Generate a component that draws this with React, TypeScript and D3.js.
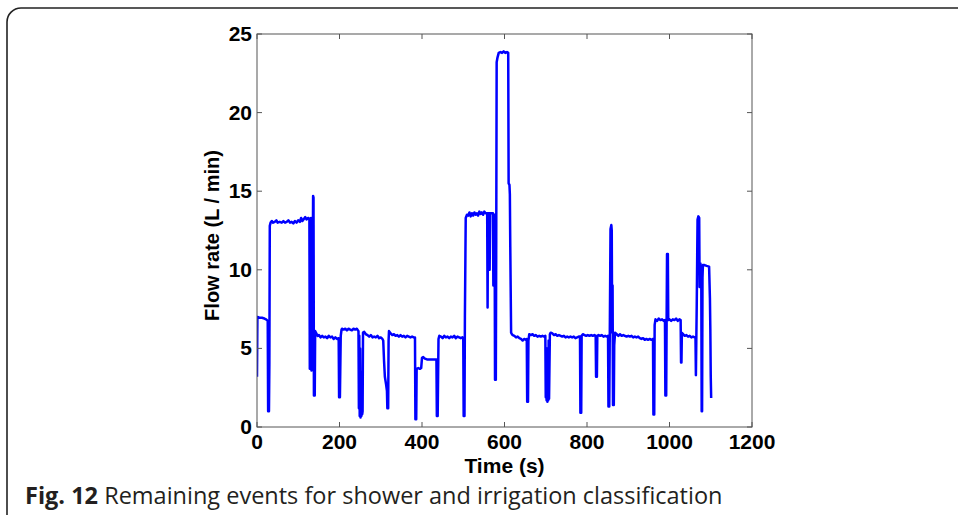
import React from "react";
import * as d3 from "d3";

const xTicks = [0, 200, 400, 600, 800, 1000, 1200];
const yTicks = [0, 5, 10, 15, 20, 25];
const xLabel = "Time (s)";
const yLabel = "Flow rate (L / min)";
const captionBold = "Fig. 12";
const captionText = " Remaining events for shower and irrigation classification";

// [time (s), flow rate (L/min)]
const flowSamples: [number, number][] = [
  [0, 3.2], [1, 7.0], [6, 6.95], [12, 6.95], [18, 6.9], [22, 6.85], [26, 6.75], [27, 1.0], [29, 1.0], [30, 4.0],
  [31, 12.8], [33, 13.0], [36, 13.1], [39, 13.0], [43, 13.05], [47, 13.15], [50, 13.0], [55, 13.05], [60, 13.0],
  [64, 13.1], [68, 13.0], [72, 13.05], [76, 13.15], [80, 13.0], [84, 13.05], [88, 12.95], [92, 13.1], [96, 13.0],
  [100, 13.15], [104, 13.05], [107, 13.3], [110, 13.1], [114, 13.25], [117, 13.35], [120, 13.2], [124, 13.3],
  [127, 13.25], [128, 3.7], [129, 13.2], [130, 8.0], [131, 13.3], [132, 3.6], [133, 12.5], [134, 5.0], [136, 14.7],
  [137, 14.6], [138, 2.0], [140, 2.0], [141, 6.1], [144, 5.95], [147, 5.8], [150, 5.85], [154, 5.7], [158, 5.8],
  [162, 5.7], [166, 5.75], [170, 5.65], [174, 5.8], [178, 5.7], [182, 5.75], [186, 5.6], [190, 5.7], [194, 5.6],
  [198, 5.65], [199, 1.9], [201, 1.9], [203, 5.8], [205, 6.2], [206, 6.25], [210, 6.2], [214, 6.25], [218, 6.15],
  [222, 6.25], [226, 6.2], [230, 6.15], [234, 6.25], [238, 6.2], [242, 6.25], [246, 6.1], [247, 1.2], [248, 5.8],
  [249, 0.7], [250, 5.0], [251, 0.6], [252, 3.5], [253, 0.7], [254, 2.0], [255, 0.8], [256, 1.0], [257, 6.0],
  [260, 6.05], [264, 5.9], [268, 5.85], [272, 5.75], [276, 5.85], [280, 5.7], [284, 5.75], [288, 5.7], [292, 5.8],
  [296, 5.65], [300, 5.7], [304, 5.6], [306, 5.5], [308, 4.2], [310, 3.2], [313, 2.7], [315, 2.3], [316, 1.2],
  [318, 1.2], [319, 5.5], [320, 6.1], [324, 5.95], [328, 5.85], [332, 5.9], [336, 5.8], [340, 5.85], [344, 5.75],
  [348, 5.85], [352, 5.75], [356, 5.8], [360, 5.7], [364, 5.8], [368, 5.75], [372, 5.7], [376, 5.75], [380, 5.7],
  [383, 5.7], [384, 0.5], [386, 0.5], [387, 3.7], [391, 3.75], [395, 3.7], [398, 3.75], [400, 4.4], [403, 4.45],
  [407, 4.35], [412, 4.3], [418, 4.3], [424, 4.3], [430, 4.3], [435, 4.3], [436, 0.7], [438, 0.7], [440, 5.6],
  [442, 5.8], [446, 5.75], [450, 5.65], [454, 5.8], [458, 5.7], [462, 5.75], [466, 5.65], [470, 5.75], [474, 5.7],
  [478, 5.8], [482, 5.65], [486, 5.75], [490, 5.7], [494, 5.65], [498, 5.7], [500, 5.6], [501, 0.7], [503, 0.7],
  [504, 7.0], [506, 13.3], [509, 13.5], [512, 13.45], [515, 13.65], [518, 13.4], [521, 13.6], [524, 13.45],
  [527, 13.65], [530, 13.5], [533, 13.6], [536, 13.45], [539, 13.7], [542, 13.55], [545, 13.65], [548, 13.5],
  [551, 13.7], [554, 13.6], [558, 13.6], [559, 7.6], [560, 13.6], [563, 13.6], [564, 10.0], [565, 13.6],
  [569, 13.6], [572, 13.6], [573, 9.0], [574, 13.5], [576, 13.5], [577, 3.0], [579, 3.0], [580, 12.0], [581, 23.2],
  [583, 23.5], [586, 23.8], [590, 23.85], [594, 23.8], [598, 23.9], [602, 23.8], [606, 23.85], [609, 23.8],
  [610, 15.5], [612, 15.4], [613, 14.8], [614, 11.5], [616, 6.0], [618, 5.9], [620, 5.85], [624, 5.8], [628, 5.7],
  [632, 5.75], [636, 5.65], [640, 5.6], [644, 5.5], [648, 5.6], [652, 5.55], [654, 5.6], [655, 1.6], [657, 1.6],
  [658, 5.5], [660, 5.9], [664, 5.85], [668, 5.9], [672, 5.8], [676, 5.85], [680, 5.75], [684, 5.8], [688, 5.75],
  [692, 5.8], [696, 5.75], [699, 5.8], [700, 1.9], [701, 4.5], [702, 1.7], [703, 5.0], [704, 1.6], [705, 3.5],
  [706, 1.7], [707, 5.5], [708, 1.8], [710, 5.9], [712, 6.0], [716, 5.95], [720, 5.85], [724, 5.9], [728, 5.8],
  [732, 5.85], [736, 5.8], [740, 5.75], [744, 5.8], [748, 5.7], [752, 5.75], [756, 5.7], [760, 5.75], [764, 5.7],
  [768, 5.75], [772, 5.65], [776, 5.7], [780, 5.75], [783, 5.75], [784, 0.9], [786, 0.9], [787, 5.8], [790, 5.9],
  [794, 5.85], [798, 5.8], [802, 5.85], [806, 5.8], [810, 5.85], [814, 5.8], [818, 5.85], [821, 5.8], [822, 3.2],
  [824, 3.2], [825, 5.8], [828, 5.85], [832, 5.8], [836, 5.85], [840, 5.75], [844, 5.8], [848, 5.75], [851, 5.8],
  [852, 1.3], [854, 1.3], [855, 5.0], [857, 12.6], [859, 12.85], [860, 12.5], [861, 6.0], [862, 9.0], [863, 1.4],
  [865, 1.4], [866, 5.2], [868, 6.0], [872, 5.9], [876, 5.8], [880, 5.9], [884, 5.8], [888, 5.85], [892, 5.8],
  [896, 5.75], [900, 5.8], [904, 5.75], [908, 5.8], [912, 5.7], [916, 5.75], [920, 5.7], [924, 5.75], [928, 5.65],
  [932, 5.6], [936, 5.65], [940, 5.55], [944, 5.6], [948, 5.55], [952, 5.6], [956, 5.55], [960, 5.6], [961, 0.8],
  [963, 0.8], [964, 6.5], [966, 6.85], [970, 6.75], [974, 6.9], [978, 6.8], [982, 6.85], [986, 6.75], [989, 6.8],
  [990, 2.0], [992, 2.0], [993, 6.6], [994, 11.0], [996, 11.0], [997, 6.8], [1000, 6.85], [1004, 6.75],
  [1008, 6.85], [1012, 6.8], [1016, 6.9], [1020, 6.75], [1024, 6.85], [1027, 6.8], [1028, 4.1], [1029, 4.1],
  [1030, 6.0], [1033, 5.9], [1037, 5.8], [1041, 5.85], [1045, 5.75], [1049, 5.8], [1053, 5.7], [1057, 5.75],
  [1061, 5.7], [1063, 5.7], [1064, 3.3], [1065, 5.5], [1066, 7.7], [1068, 13.2], [1070, 13.4], [1072, 13.3],
  [1073, 8.9], [1075, 10.4], [1076, 9.8], [1077, 10.0], [1078, 1.0], [1079, 1.0], [1080, 9.5], [1081, 10.3],
  [1085, 10.3], [1090, 10.25], [1096, 10.2], [1098, 8.2], [1099, 6.2], [1100, 3.2], [1101, 1.85],
];

const W = 958;
const H = 515;
const plot = { left: 257, right: 752, top: 34, bottom: 427 };
const axisColor = "#555";
const tickLen = 5;
const numFont = "'Liberation Sans', Arial, sans-serif";

export default function App() {
  const x = d3.scaleLinear().domain([0, 1200]).range([plot.left, plot.right]);
  const y = d3.scaleLinear().domain([0, 25]).range([plot.bottom, plot.top]);
  const line = d3
    .line<[number, number]>()
    .x((d) => x(d[0]))
    .y((d) => y(d[1]));
  const r = 14;
  const frameL = 7;
  const frameT = 8;

  return (
    <svg
      width={W}
      height={H}
      style={{ position: "absolute", left: 0, top: 0, background: "#fff" }}
    >
      <rect x={0} y={0} width={W} height={H} fill="#fff" />
      <path
        d={`M${frameL},${H + 5} L${frameL},${frameT + r} A${r},${r} 0 0 1 ${frameL + r},${frameT} L${W + 5},${frameT}`}
        fill="none"
        stroke="#222"
        strokeWidth={1.6}
      />
      <g>
        <clipPath id="plotclip">
          <rect x={plot.left} y={plot.top} width={plot.right - plot.left} height={plot.bottom - plot.top} />
        </clipPath>
        <path
          d={line(flowSamples) || ""}
          fill="none"
          stroke="#0000ff"
          strokeWidth={2.5}
          strokeLinejoin="round"
          clipPath="url(#plotclip)"
        />
      </g>
      <rect
        x={plot.left}
        y={plot.top}
        width={plot.right - plot.left}
        height={plot.bottom - plot.top}
        fill="none"
        stroke={axisColor}
        strokeWidth={1}
      />
      {xTicks.map((t) => (
        <g key={"xt" + t}>
          <line x1={x(t)} x2={x(t)} y1={plot.bottom} y2={plot.bottom - tickLen} stroke={axisColor} />
          <line x1={x(t)} x2={x(t)} y1={plot.top} y2={plot.top + tickLen} stroke={axisColor} />
          <text
            x={x(t)}
            y={plot.bottom + 22}
            textAnchor="middle"
            fontFamily={numFont}
            fontWeight="bold"
            fontSize={21}
            fill="#000"
          >
            {t}
          </text>
        </g>
      ))}
      {yTicks.map((t) => (
        <g key={"yt" + t}>
          <line x1={plot.left} x2={plot.left + tickLen} y1={y(t)} y2={y(t)} stroke={axisColor} />
          <line x1={plot.right} x2={plot.right - tickLen} y1={y(t)} y2={y(t)} stroke={axisColor} />
          <text
            x={plot.left - 5}
            y={y(t) + 7}
            textAnchor="end"
            fontFamily={numFont}
            fontWeight="bold"
            fontSize={21}
            fill="#000"
          >
            {t}
          </text>
        </g>
      ))}
      <text
        x={(plot.left + plot.right) / 2}
        y={473}
        textAnchor="middle"
        fontFamily={numFont}
        fontWeight="bold"
        fontSize={21}
        fill="#000"
      >
        {xLabel}
      </text>
      <text
        transform={`translate(219, ${(plot.top + plot.bottom) / 2 + 5}) rotate(-90)`}
        textAnchor="middle"
        fontFamily={numFont}
        fontWeight="bold"
        fontSize={20}
        fill="#000"
      >
        {yLabel}
      </text>
      <text x={25} y={504} fontFamily="'Open Sans', 'Noto Sans', sans-serif" fontSize={23.5} fill="#231f20">
        <tspan fontWeight="bold">{captionBold}</tspan>
        <tspan>{captionText}</tspan>
      </text>
    </svg>
  );
}
